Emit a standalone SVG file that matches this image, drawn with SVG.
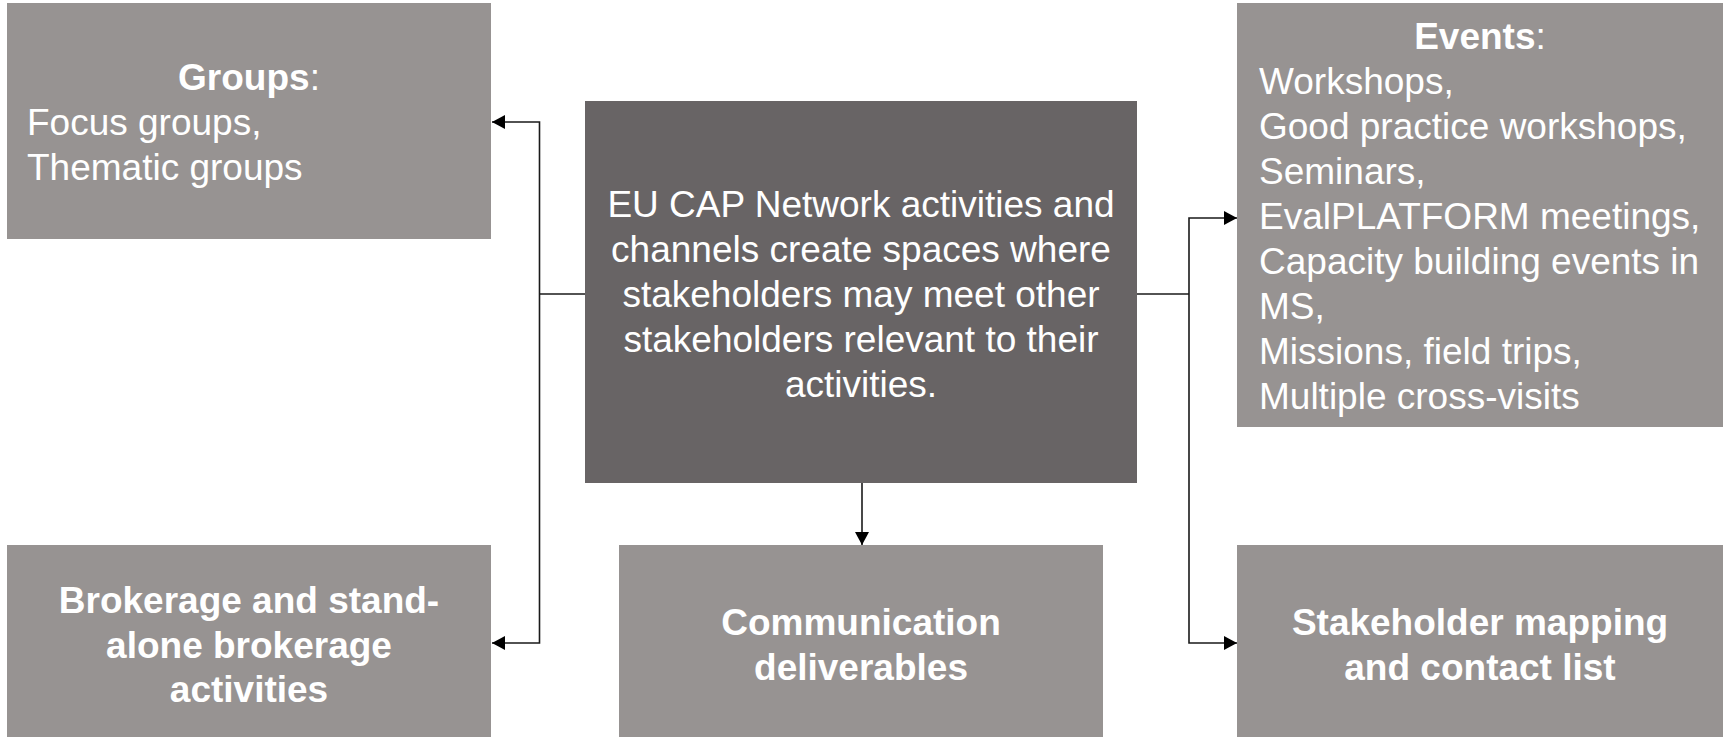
<svg xmlns="http://www.w3.org/2000/svg" width="1725" height="737" viewBox="0 0 1725 737">
<style>
.box{fill:#979392}
.main{fill:#686465}
text{font-family:"Liberation Sans",Arial,sans-serif;font-size:37px;fill:#ffffff}
.b{font-weight:bold}
.c{text-anchor:middle}
.conn{fill:none;stroke:#1a1a1a;stroke-width:1.6}
</style>
<defs>
<marker id="arr" markerWidth="14" markerHeight="14" refX="13" refY="7" orient="auto" markerUnits="userSpaceOnUse">
<path d="M0,0 L13,7 L0,14 Z" fill="#000"/>
</marker>
</defs>
<g id="connectors">
<polyline class="conn" points="585,294 539.5,294"/>
<polyline class="conn" points="539.5,294 539.5,122 492,122" marker-end="url(#arr)"/>
<polyline class="conn" points="539.5,294 539.5,643 492,643" marker-end="url(#arr)"/>
<polyline class="conn" points="1137,294 1189,294"/>
<polyline class="conn" points="1189,294 1189,218 1237,218" marker-end="url(#arr)"/>
<polyline class="conn" points="1189,294 1189,643 1237,643" marker-end="url(#arr)"/>
<polyline class="conn" points="862,483 862,545" marker-end="url(#arr)"/>
</g>
<g id="groups">
<rect class="box" x="7" y="3" width="484" height="236"/>
<text x="249" y="90" class="c"><tspan class="b">Groups</tspan>:</text>
<text x="27" y="135">Focus groups,</text>
<text x="27" y="180">Thematic groups</text>
</g>
<g id="center">
<rect class="main" x="585" y="101" width="552" height="382"/>
<text class="c" x="861" y="217">EU CAP Network activities and</text>
<text class="c" x="861" y="262">channels create spaces where</text>
<text class="c" x="861" y="307">stakeholders may meet other</text>
<text class="c" x="861" y="352">stakeholders relevant to their</text>
<text class="c" x="861" y="397">activities.</text>
</g>
<g id="events">
<rect class="box" x="1237" y="3" width="486" height="424"/>
<text x="1480" y="49" class="c"><tspan class="b">Events</tspan>:</text>
<text x="1259" y="94">Workshops,</text>
<text x="1259" y="139">Good practice workshops,</text>
<text x="1259" y="184">Seminars,</text>
<text x="1259" y="229">EvalPLATFORM meetings,</text>
<text x="1259" y="274">Capacity building events in</text>
<text x="1259" y="319">MS,</text>
<text x="1259" y="364">Missions, field trips,</text>
<text x="1259" y="409">Multiple cross-visits</text>
</g>
<g id="brokerage">
<rect class="box" x="7" y="545" width="484" height="192"/>
<text class="c b" x="249" y="613">Brokerage and stand-</text>
<text class="c b" x="249" y="658">alone brokerage</text>
<text class="c b" x="249" y="702">activities</text>
</g>
<g id="communication">
<rect class="box" x="619" y="545" width="484" height="192"/>
<text class="c b" x="861" y="635">Communication</text>
<text class="c b" x="861" y="680">deliverables</text>
</g>
<g id="stakeholder">
<rect class="box" x="1237" y="545" width="486" height="192"/>
<text class="c b" x="1480" y="635">Stakeholder mapping</text>
<text class="c b" x="1480" y="680">and contact list</text>
</g>
</svg>
